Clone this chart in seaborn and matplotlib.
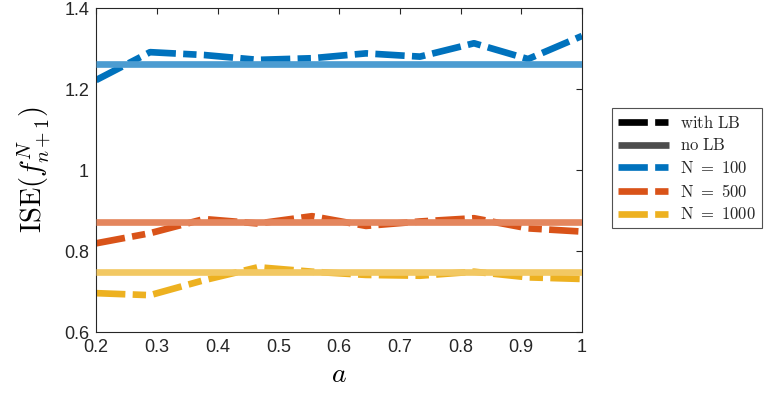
import numpy as np
import pandas as pd
import matplotlib
matplotlib.use("Agg")
import matplotlib.pyplot as plt
from matplotlib.lines import Line2D
import seaborn as sns

# values
a_vals = [0.2, 0.2889, 0.3778, 0.4667, 0.5556, 0.6444, 0.7333, 0.8222, 0.9111, 1.0]
ise_lb_100 = [1.222, 1.291, 1.284, 1.272, 1.276, 1.288, 1.280, 1.313, 1.274, 1.331]
ise_lb_500 = [0.819, 0.844, 0.879, 0.868, 0.886, 0.862, 0.873, 0.881, 0.856, 0.848]
ise_lb_1000 = [0.696, 0.691, 0.728, 0.760, 0.749, 0.741, 0.739, 0.749, 0.735, 0.731]
ise_nolb = [1.262, 0.872, 0.749]
sample_sizes = ["100", "500", "1000"]

colors = ["#0072BD", "#D95319", "#EDB120"]
light = ["#4C9CD1", "#E4865E", "#F2C863"]

df = pd.DataFrame({
    "a": a_vals * 3,
    "ise": ise_lb_100 + ise_lb_500 + ise_lb_1000,
    "N": np.repeat(sample_sizes, len(a_vals)),
})

sns.set_theme(style="white")
plt.rcParams["font.family"] = ["Liberation Sans", "DejaVu Sans"]
plt.rcParams["mathtext.fontset"] = "cm"

fig = plt.figure(figsize=(7.64, 4.01), dpi=100)
ax = fig.add_axes([0.1257, 0.172, 0.7618 - 0.1257, 0.980 - 0.172])

dash = (0, (4.4, 1.1, 2.0, 1.1))
lw = 4.8
for n, c in zip(sample_sizes, colors):
    sns.lineplot(data=df[df["N"] == n], x="a", y="ise", color=c, lw=lw,
                 linestyle=dash, ax=ax, zorder=2)
for v, c in zip(ise_nolb, light):
    ax.axhline(v, color=c, lw=lw, zorder=3, solid_capstyle="butt")

ax.set_xlim(0.2, 1.0)
ax.set_ylim(0.6, 1.4)
ax.set_xticks([0.2, 0.3, 0.4, 0.5, 0.6, 0.7, 0.8, 0.9, 1.0])
ax.set_xticklabels(["0.2", "0.3", "0.4", "0.5", "0.6", "0.7", "0.8", "0.9", "1"])
ax.set_yticks([0.6, 0.8, 1.0, 1.2, 1.4])
ax.set_yticklabels(["0.6", "0.8", "1", "1.2", "1.4"])
ax.tick_params(direction="in", length=4, width=0.8, top=True, right=True,
               labelsize=13, colors="#262626", pad=5)
for s in ax.spines.values():
    s.set_color("#262626")
    s.set_linewidth(0.8)

ax.set_xlabel(r"$a$", fontsize=20, color="black", labelpad=4)
ax.set_ylabel(r"$\mathrm{ISE}(f^N_{n+1})$", fontsize=20.5, color="black", labelpad=8)

handles = [
    Line2D([], [], color="black", lw=lw, linestyle=dash),
    Line2D([], [], color="#4D4D4D", lw=lw, solid_capstyle="butt"),
] + [Line2D([], [], color=c, lw=lw, linestyle=dash) for c in colors]
labels = [r"$\mathrm{with\ LB}$", r"$\mathrm{no\ LB}$"] + \
    [r"$\mathrm{N}\ =\ %s$" % n for n in sample_sizes]
leg = fig.legend(handles, labels, loc="upper left", bbox_to_anchor=(0.801, 0.731),
                 bbox_transform=fig.transFigure, fontsize=12, frameon=True,
                 fancybox=False, edgecolor="#262626", borderaxespad=0,
                 handlelength=3.05, handletextpad=0.7, labelspacing=0.4,
                 borderpad=0.35)
leg.get_frame().set_linewidth(0.8)

fig.savefig("out.png", dpi=100)
